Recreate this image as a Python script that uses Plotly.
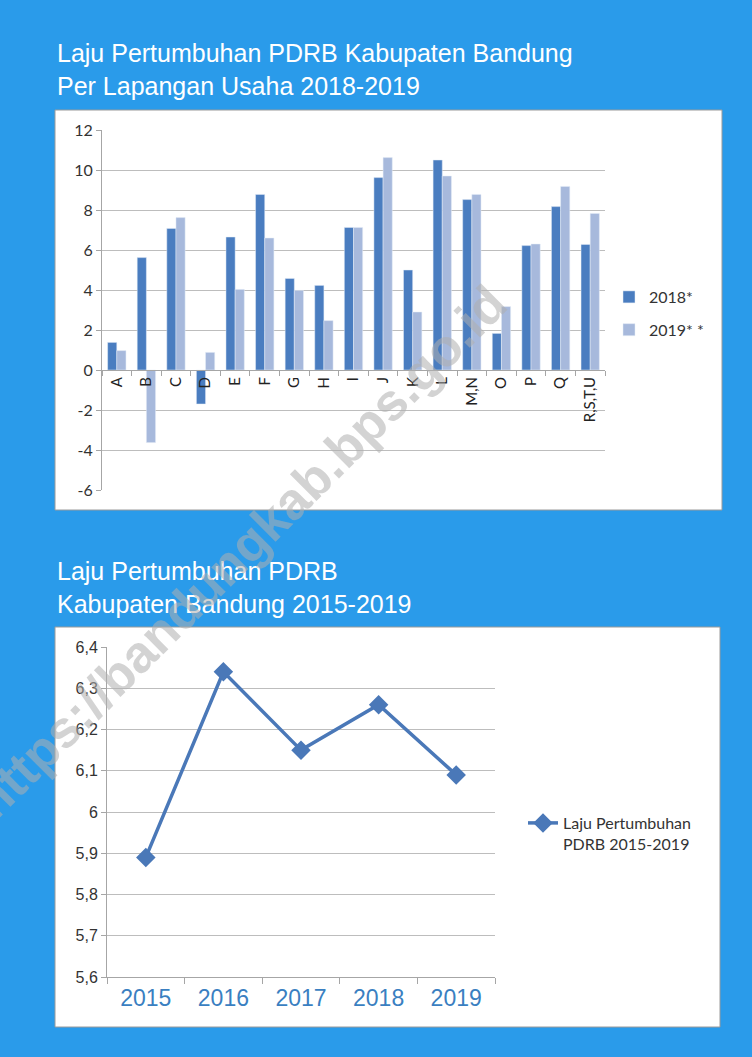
import plotly.graph_objects as go

# --- data ---
sectors = ['A', 'B', 'C', 'D', 'E', 'F', 'G', 'H', 'I', 'J', 'K', 'L', 'M,N', 'O', 'P', 'Q', 'R,S,T,U']
growth_2018 = [1.38, 5.62, 7.08, -1.70, 6.65, 8.78, 4.58, 4.23, 7.13, 9.62, 5.00, 10.50, 8.52, 1.83, 6.22, 8.17, 6.28]
growth_2019 = [0.97, -3.63, 7.62, 0.88, 4.03, 6.60, 3.98, 2.47, 7.13, 10.62, 2.90, 9.70, 8.78, 3.17, 6.30, 9.18, 7.83]
bar_ticks = [-6, -4, -2, 0, 2, 4, 6, 8, 10, 12]
bar_tick_labels = ['-6', '-4', '-2', '0', '2', '4', '6', '8', '10', '12']

years = ['2015', '2016', '2017', '2018', '2019']
growth_total = [5.89, 6.34, 6.15, 6.26, 6.09]

W, H = 752, 1057
BG = '#2a9bea'
GRID = '#bdbdbd'
AXIS = '#a6a6a6'


def px_x(p):
    return p / W


def px_y(p):
    return 1 - p / H


fig = go.Figure()

fig.add_trace(go.Bar(x=sectors, y=growth_2018, name='2018*', marker_color='#4a7dc0',
                     xaxis='x', yaxis='y', legend='legend', legendgroup='a'))
fig.add_trace(go.Bar(x=sectors, y=growth_2019, name='2019* *', marker_color='#a7b9dc',
                     xaxis='x', yaxis='y', legend='legend', legendgroup='b'))

fig.add_trace(go.Scatter(x=years, y=growth_total, name='Laju Pertumbuhan<br>PDRB 2015-2019',
                         mode='lines+markers', xaxis='x2', yaxis='y2', legend='legend2',
                         line=dict(color='#4a78b8', width=3.5),
                         marker=dict(symbol='diamond', size=15, color='#4a78b8')))

# bar chart domain (pixels -> paper)
bar_y0, bar_y1 = px_y(490), px_y(130)
zero_pos = bar_y0 + (bar_y1 - bar_y0) * 6 / 18

fig.update_layout(
    width=W, height=H,
    margin=dict(l=0, r=0, t=0, b=0, pad=0, autoexpand=False),
    paper_bgcolor=BG,
    plot_bgcolor='white',
    separators=',.',
    barmode='group', bargap=0.38, bargroupgap=0,
    showlegend=True,
    font=dict(family='Liberation Sans', color='#333333'),
    xaxis=dict(domain=[px_x(102), px_x(605)], anchor='free', position=zero_pos,
               type='category', tickson='boundaries', ticks='outside', ticklen=5,
               tickcolor=AXIS, showline=True, linecolor=AXIS, linewidth=1,
               showgrid=False, tickangle=-90, automargin=False,
               tickfont=dict(family='Lato', size=15, color='#222222')),
    yaxis=dict(domain=[bar_y0, bar_y1], range=[-6, 12], anchor='x',
               tickvals=bar_ticks, ticktext=bar_tick_labels, automargin=False,
               showgrid=True, gridcolor=GRID, zeroline=False,
               showline=True, linecolor=AXIS, ticks='outside', ticklen=5, tickcolor=AXIS,
               tickfont=dict(family='Lato', size=16, color='#333333')),
    xaxis2=dict(domain=[px_x(107), px_x(495)], anchor='y2', type='category',
                range=[-0.5, 4.5], automargin=False,
                tickson='boundaries', ticks='outside', ticklen=6, tickcolor=AXIS,
                showline=True, linecolor=AXIS, showgrid=False,
                tickfont=dict(family='Liberation Sans', size=23, color='#3a7fc1')),
    yaxis2=dict(domain=[px_y(977), px_y(647)], range=[5.6, 6.4], dtick=0.1, anchor='x2',
                automargin=False,
                showgrid=True, gridcolor=GRID, zeroline=False,
                showline=True, linecolor=AXIS, ticks='outside', ticklen=5, tickcolor=AXIS,
                tickfont=dict(family='Liberation Sans', size=16, color='#333333')),
    legend=dict(x=px_x(609), y=px_y(280), xanchor='left', yanchor='top',
                bgcolor='rgba(0,0,0,0)', tracegroupgap=9,
                font=dict(family='Lato', size=16, color='#333333')),
    legend2=dict(x=px_x(523), y=px_y(806), xanchor='left', yanchor='top',
                 bgcolor='rgba(0,0,0,0)', valign='top',
                 font=dict(family='Lato', size=16, color='#333333')),
    shapes=[
        dict(type='rect', xref='paper', yref='paper', layer='below',
             x0=px_x(55), x1=px_x(722), y0=px_y(510), y1=px_y(110),
             fillcolor='white', line=dict(color='#9a9a9a', width=1)),
        dict(type='rect', xref='paper', yref='paper', layer='below',
             x0=px_x(55), x1=px_x(720), y0=px_y(1027), y1=px_y(627),
             fillcolor='white', line=dict(color='#9a9a9a', width=1)),
    ],
    annotations=[
        dict(text='Laju Pertumbuhan PDRB Kabupaten Bandung<br>Per Lapangan Usaha 2018-2019',
             xref='paper', yref='paper', x=px_x(55), y=px_y(37), xanchor='left', yanchor='top',
             align='left', showarrow=False,
             font=dict(family='Liberation Sans', size=25, color='white')),
        dict(text='Laju Pertumbuhan PDRB<br>Kabupaten Bandung 2015-2019',
             xref='paper', yref='paper', x=px_x(55), y=px_y(555), xanchor='left', yanchor='top',
             align='left', showarrow=False,
             font=dict(family='Liberation Sans', size=25, color='white')),
        # watermark
        dict(text='<b>https://bandungkab.bps.go.id</b>', xref='paper', yref='paper',
             x=px_x(240), y=px_y(552), xanchor='center', yanchor='middle',
             textangle=-45, showarrow=False,
             font=dict(family='Liberation Sans', size=52, color='rgba(175,175,175,0.55)')),
    ],
)

fig.write_html('out.html', config={'displayModeBar': False},
               post_script="document.body.style.margin='0';")
